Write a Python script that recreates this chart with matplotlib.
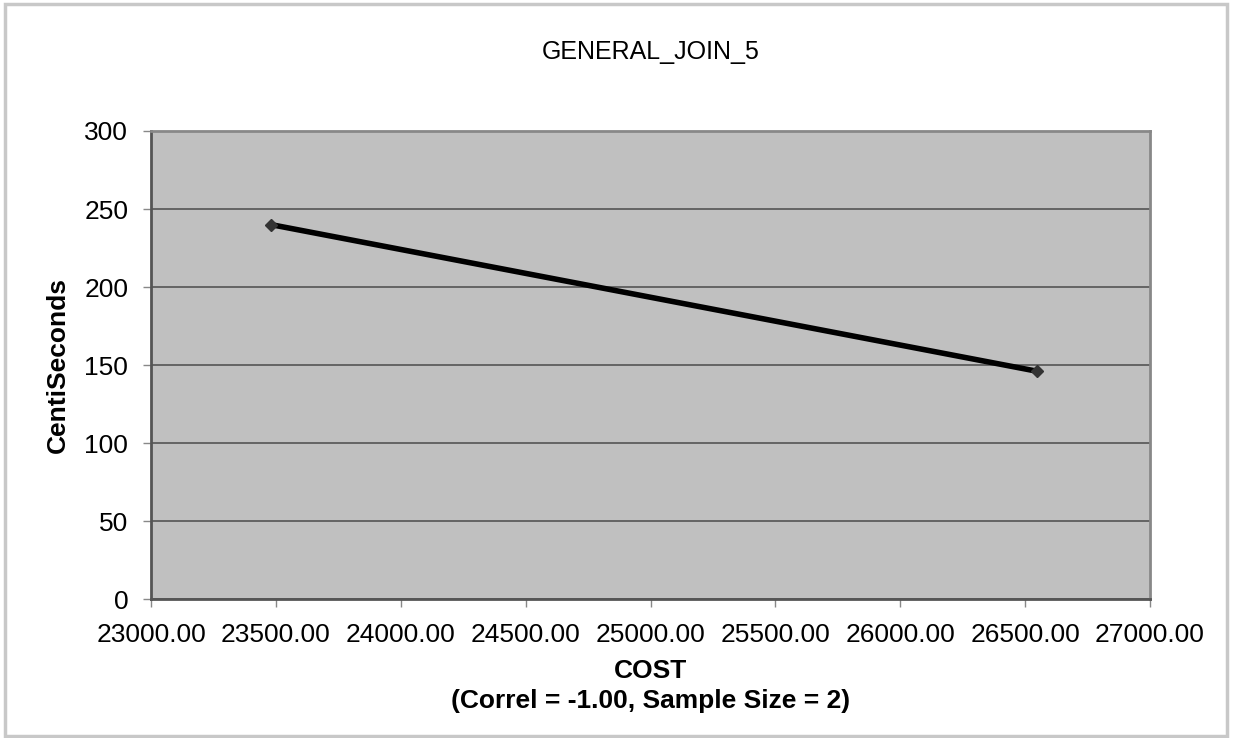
"""Excel-style scatter/line chart: COST vs CentiSeconds for GENERAL_JOIN_5."""

import matplotlib
matplotlib.use("Agg")
import matplotlib.pyplot as plt
from matplotlib.patches import Rectangle
from matplotlib.ticker import FormatStrFormatter, MultipleLocator

plt.rcParams["font.family"] = ["Liberation Sans", "DejaVu Sans"]

TITLE = "GENERAL_JOIN_5"
X_LABEL = "COST\n(Correl = -1.00, Sample Size = 2)"
Y_LABEL = "CentiSeconds"

cost = [23480.0, 26548.0]
centiseconds = [240.0, 146.0]

x_range = (23000, 27000)
y_range = (0, 300)

fig = plt.figure(figsize=(12.33, 7.38), dpi=100, facecolor="white")
ax = fig.add_axes([0.1225, 0.1883, 0.8102, 0.6342])
ax.set_facecolor("#c0c0c0")

# light frame around the whole picture
fig.patches.append(Rectangle((0.004, 0.003), 0.991, 0.991, transform=fig.transFigure,
                             fill=False, edgecolor="#c8c8c8", linewidth=2.5))

ax.plot(cost, centiseconds, color="black", linewidth=4, marker="D", markersize=6,
        markerfacecolor="#333333", markeredgecolor="#333333", solid_capstyle="round",
        zorder=3)

ax.set_xlim(*x_range)
ax.set_ylim(*y_range)
ax.xaxis.set_major_locator(MultipleLocator(500))
ax.yaxis.set_major_locator(MultipleLocator(50))
ax.xaxis.set_major_formatter(FormatStrFormatter("%.2f"))

ax.grid(axis="y", color="#555555", linewidth=1.2)
ax.set_axisbelow(True)

for side in ("left", "bottom"):
    ax.spines[side].set_color("#555555")
    ax.spines[side].set_linewidth(2)
for side in ("top", "right"):
    ax.spines[side].set_color("#888888")
    ax.spines[side].set_linewidth(2)

ax.tick_params(axis="both", labelsize=19, color="#888888", length=6, width=1,
               direction="out")
ax.tick_params(axis="x", pad=11)
ax.tick_params(axis="y", pad=10.5)

ax.set_title(TITLE, fontsize=18, pad=52)
ax.set_xlabel(X_LABEL, fontsize=19, fontweight="bold", labelpad=9, linespacing=1.3)
ax.set_ylabel(Y_LABEL, fontsize=19, fontweight="bold", labelpad=10)

fig.savefig("out.png", dpi=100, facecolor="white")
